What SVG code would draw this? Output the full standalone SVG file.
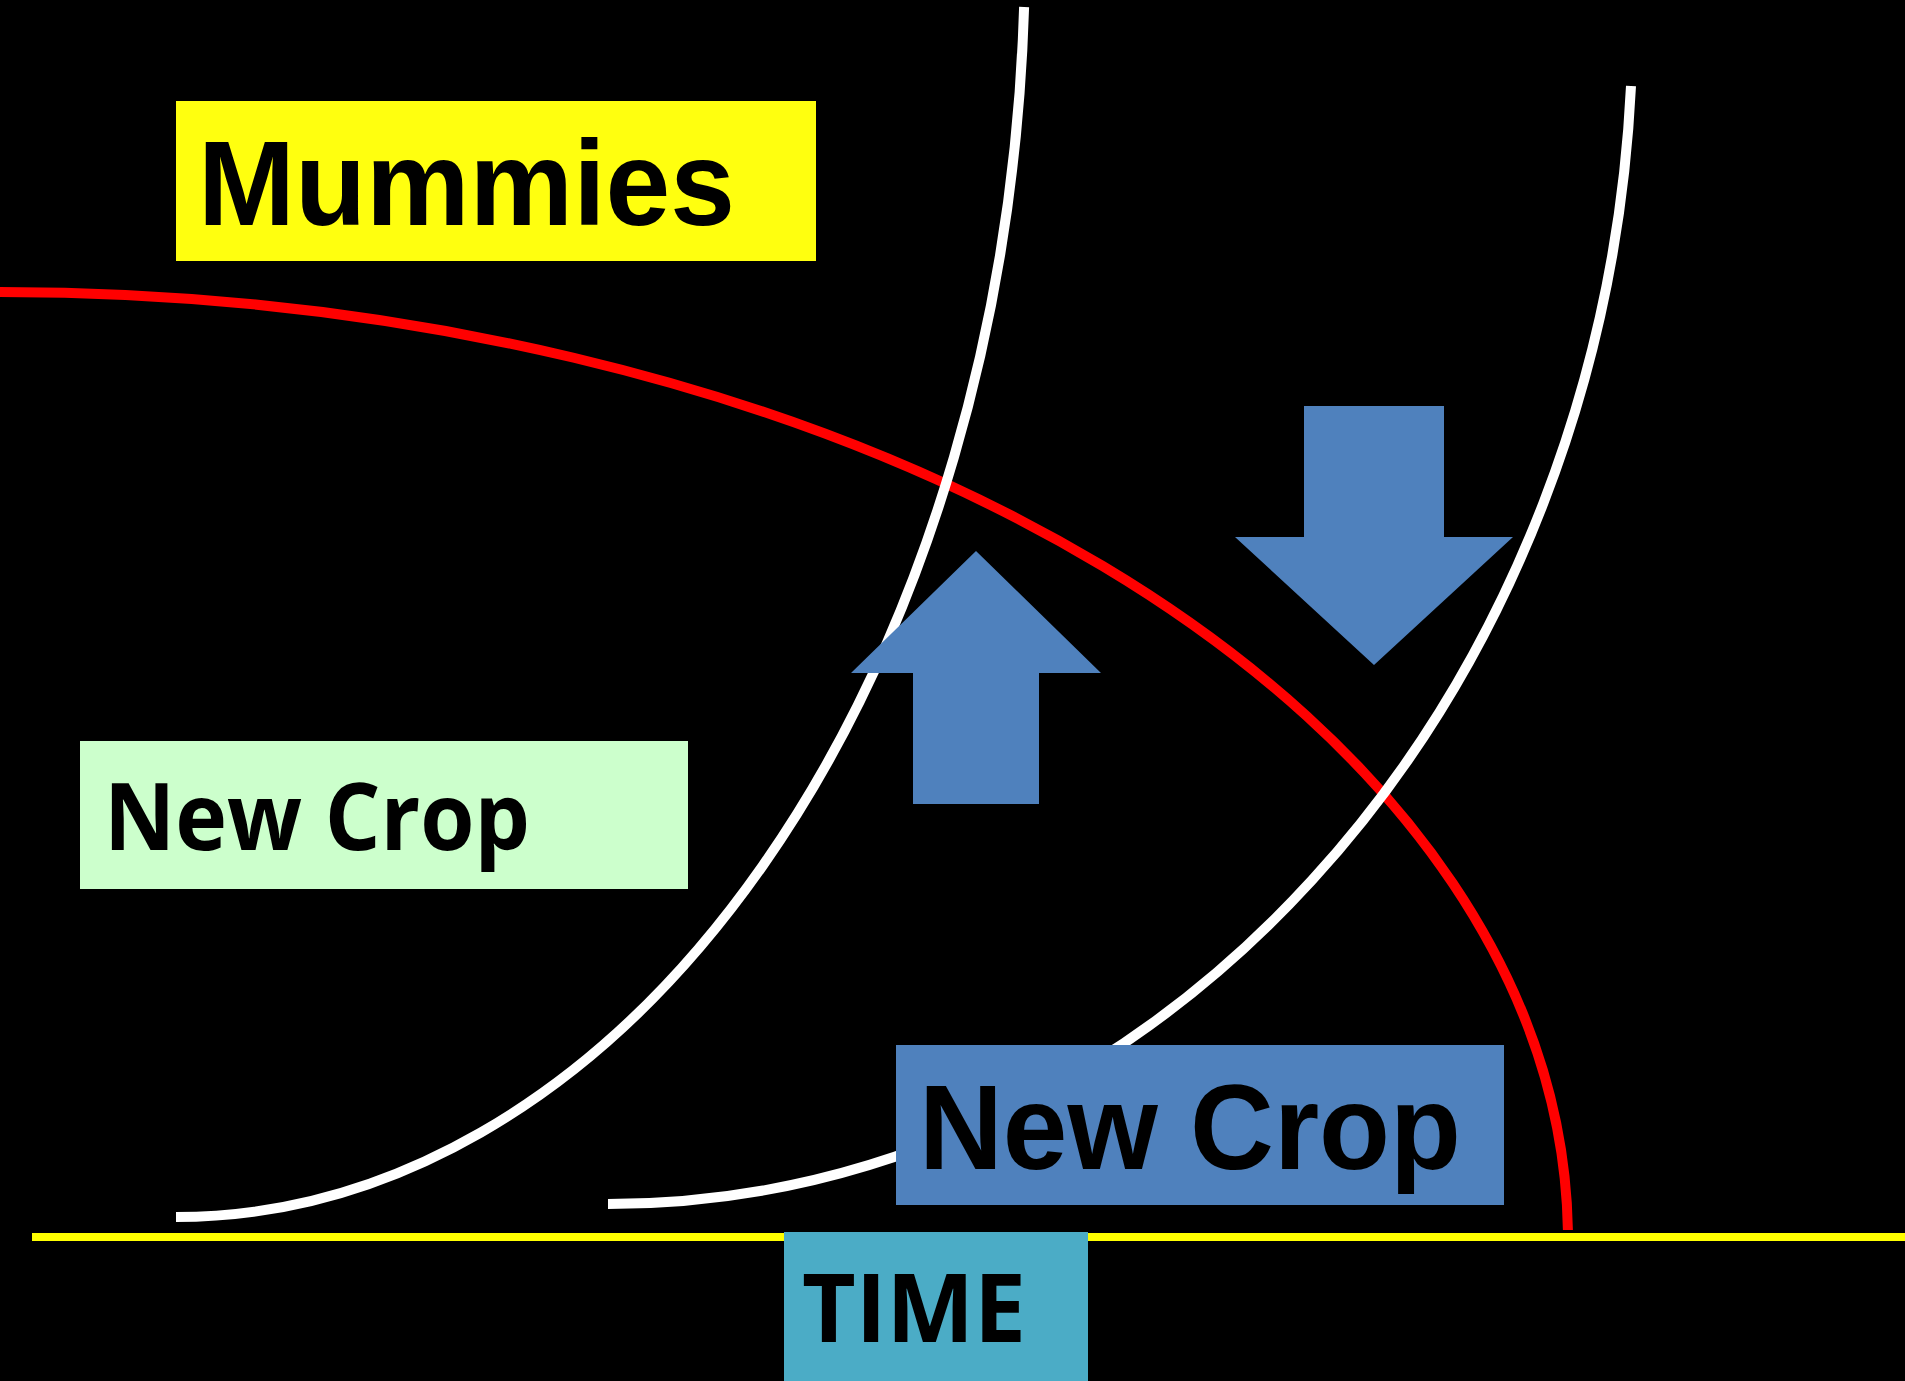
<svg xmlns="http://www.w3.org/2000/svg" width="1905" height="1381" viewBox="0 0 1905 1381">
<style>
.curve{fill:none;stroke-linecap:butt}
.white{stroke:#FFFFFF;stroke-width:10}
.red{stroke:#FF0000;stroke-width:10}
.arial{font-family:"Liberation Sans",Arial,sans-serif;font-weight:700;fill:#000}
.round{font-family:"Open Sans","Noto Sans",sans-serif;font-weight:700;fill:#000}
.arrow{fill:#4F81BD}
</style>
<rect x="0" y="0" width="1905" height="1381" fill="#000"/>
<g id="connectors">
<line id="time-axis" x1="32" y1="1237" x2="1905" y2="1237" stroke="#FFFF00" stroke-width="8"/>
<path id="mummies-curve" class="curve red" d="M0,292 A1568,948 0 0 1 1567.9,1230"/>
<path id="crop1-curve" class="curve white" d="M176,1217 A849,1267 0 0 0 1024.1,7"/>
<path id="crop2-curve" class="curve white" d="M608,1204 A1024.6,1184 0 0 0 1631,86"/>
</g>
<g id="mummies">
<rect x="176" y="101" width="640" height="160" fill="#FFFF0F"/>
<text class="arial" x="198" y="225" font-size="121" textLength="537" lengthAdjust="spacingAndGlyphs">Mummies</text>
</g>
<g id="new-crop-green">
<rect x="80" y="741" width="608" height="148" fill="#CCFFCC"/>
<text class="round" x="104" y="850" font-size="93" textLength="426" lengthAdjust="spacingAndGlyphs">New Crop</text>
</g>
<g id="up-arrow">
<polygon class="arrow" points="976,551 1101,673 1039,673 1039,804 913,804 913,673 851,673"/>
</g>
<g id="down-arrow">
<polygon class="arrow" points="1304,406 1444,406 1444,537 1513,537 1374,665 1235,537 1304,537"/>
</g>
<g id="new-crop-blue">
<rect x="896" y="1045" width="608" height="160" fill="#4F81BD"/>
<text class="arial" x="919" y="1169" font-size="120" textLength="542" lengthAdjust="spacingAndGlyphs">New Crop</text>
</g>
<g id="time">
<rect x="784" y="1232" width="304" height="149" fill="#4BACC6"/>
<text class="round" x="802" y="1342" font-size="95" textLength="224" lengthAdjust="spacingAndGlyphs">TIME</text>
</g>
</svg>
